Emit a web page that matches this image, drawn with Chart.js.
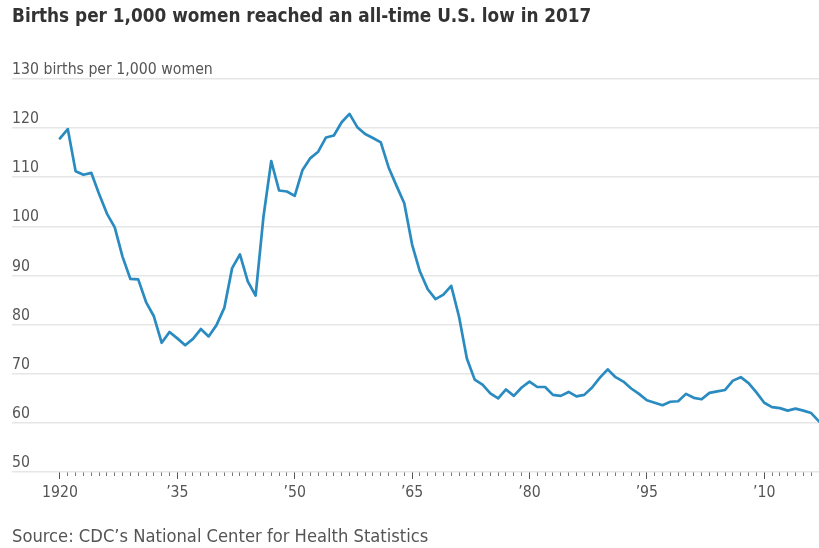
<!DOCTYPE html>
<html>
<head>
<meta charset="utf-8">
<script src="https://cdn.jsdelivr.net/npm/chart.js@4/dist/chart.umd.min.js"></script>
<style>
  html, body { margin: 0; padding: 0; background: #ffffff; }
  #wrap { width: 819px; height: 548px; }
</style>
</head>
<body>
<div id="wrap"><canvas id="chart" width="819" height="548"></canvas></div>
<script>
// ---- data ----
const years = [
  1920,1921,1922,1923,1924,1925,1926,1927,1928,1929,
  1930,1931,1932,1933,1934,1935,1936,1937,1938,1939,
  1940,1941,1942,1943,1944,1945,1946,1947,1948,1949,
  1950,1951,1952,1953,1954,1955,1956,1957,1958,1959,
  1960,1961,1962,1963,1964,1965,1966,1967,1968,1969,
  1970,1971,1972,1973,1974,1975,1976,1977,1978,1979,
  1980,1981,1982,1983,1984,1985,1986,1987,1988,1989,
  1990,1991,1992,1993,1994,1995,1996,1997,1998,1999,
  2000,2001,2002,2003,2004,2005,2006,2007,2008,2009,
  2010,2011,2012,2013,2014,2015,2016,2017
];
const birthsPer1000 = [
  117.9,119.8,111.2,110.5,110.9,106.6,102.6,99.8,93.8,89.3,
  89.2,84.6,81.7,76.3,78.5,77.2,75.8,77.1,79.1,77.6,
  79.9,83.4,91.5,94.3,88.8,85.9,101.9,113.3,107.3,107.1,
  106.2,111.5,113.9,115.2,118.1,118.5,121.2,122.9,120.2,118.8,
  118.0,117.1,112.0,108.3,104.7,96.3,90.8,87.2,85.2,86.1,
  87.9,81.6,73.1,68.8,67.8,66.0,65.0,66.8,65.5,67.2,
  68.4,67.3,67.3,65.7,65.5,66.3,65.4,65.7,67.2,69.2,
  70.9,69.3,68.4,67.0,65.9,64.6,64.1,63.6,64.3,64.4,
  65.9,65.1,64.8,66.1,66.4,66.7,68.6,69.3,68.1,66.2,
  64.1,63.2,63.0,62.5,62.9,62.5,62.0,60.3
];
const yTickValues = [50, 60, 70, 80, 90, 100, 110, 120, 130];
const xLabelYears = [1920, 1935, 1950, 1965, 1980, 1995, 2010];
const xLabelTexts = ['1920', '\u201935', '\u201950', '\u201965', '\u201980', '\u201995', '\u201910'];
const titleText = 'Births per 1,000 women reached an all-time U.S. low in 2017';
const unitText = '130 births per 1,000 women';
const sourceText = 'Source: CDC\u2019s National Center for Health Statistics';

// ---- fonts: size chosen so text widths match the reference ----
const FAMILY = "'Liberation Sans Narrow', 'DejaVu Sans Condensed', 'Roboto Condensed', 'Liberation Sans', sans-serif";
const mctx = document.createElement('canvas').getContext('2d');
function fitSize(text, weight, targetWidth) {
  mctx.font = weight + ' 100px ' + FAMILY;
  return Math.round(100 * targetWidth / mctx.measureText(text).width * 10) / 10;
}
const titleSize = fitSize(titleText, 'bold', 580);
const sourceSize = fitSize(sourceText, 'normal', 416);
const tickSize = fitSize(unitText, 'normal', 201);

const CHART_TOP = 79;      // pixel of the 130 gridline
const CHART_BOTTOM = 472;  // pixel of the 50 gridline
const TITLE_PAD_TOP = 17 - 0.6 * titleSize;
const TITLE_PAD_BOTTOM = CHART_TOP - TITLE_PAD_TOP - 1.2 * titleSize;
const X_TICK_LEN = 12;
const xAxisHeight = X_TICK_LEN + 1.2 * tickSize;
const SRC_PAD_BOTTOM = 548 - 537 - 0.6 * sourceSize;
const SRC_PAD_TOP = (548 - CHART_BOTTOM - xAxisHeight) - SRC_PAD_BOTTOM - 1.2 * sourceSize;

new Chart(document.getElementById('chart'), {
  type: 'line',
  data: {
    datasets: [{
      data: years.map((yr, i) => ({ x: yr, y: birthsPer1000[i] })),
      borderColor: '#2a8bc1',
      borderWidth: 2.7,
      pointRadius: 0,
      tension: 0,
      borderJoinStyle: 'round',
      borderCapStyle: 'round',
      fill: false
    }]
  },
  options: {
    responsive: false,
    devicePixelRatio: 1,
    animation: false,
    layout: { padding: { left: 12, right: 0, top: 0, bottom: 0 } },
    plugins: {
      legend: { display: false },
      tooltip: { enabled: false },
      title: {
        display: true,
        text: titleText,
        align: 'start',
        color: '#333333',
        font: { family: FAMILY, size: titleSize, weight: 'bold', lineHeight: 1.2 },
        padding: { top: TITLE_PAD_TOP, bottom: TITLE_PAD_BOTTOM }
      },
      subtitle: {
        display: true,
        position: 'bottom',
        text: sourceText,
        align: 'start',
        color: '#555555',
        font: { family: FAMILY, size: sourceSize, weight: 'normal', lineHeight: 1.2 },
        padding: { top: SRC_PAD_TOP, bottom: SRC_PAD_BOTTOM }
      }
    },
    scales: {
      x: {
        type: 'linear',
        min: 1913.87,
        max: 2017,
        afterBuildTicks: (scale) => { scale.ticks = years.map(v => ({ value: v })); },
        ticks: {
          autoSkip: false,
          maxRotation: 0,
          minRotation: 0,
          padding: 0,
          color: '#555555',
          font: { family: FAMILY, size: tickSize, lineHeight: 1.2 },
          callback: (v) => {
            const k = xLabelYears.indexOf(Math.round(v));
            return k >= 0 ? xLabelTexts[k] : '';
          }
        },
        grid: {
          drawOnChartArea: false,
          drawTicks: true,
          tickLength: X_TICK_LEN,
          tickColor: (ctx) => (ctx.tick && xLabelYears.includes(Math.round(ctx.tick.value))) ? '#555555' : '#777777',
          tickWidth: 1,
          tickBorderDash: (ctx) => (ctx.tick && xLabelYears.includes(Math.round(ctx.tick.value))) ? [7, 40] : [4, 40]
        },
        border: { display: false }
      },
      y: {
        type: 'linear',
        position: 'left',
        min: 50,
        max: 130,
        afterBuildTicks: (scale) => { scale.ticks = yTickValues.map(v => ({ value: v })); },
        ticks: {
          mirror: true,
          padding: 0,
          labelOffset: -9,
          color: '#555555',
          font: { family: FAMILY, size: tickSize, lineHeight: 1.2 },
          callback: (v) => v === 130 ? unitText : String(v)
        },
        grid: {
          color: '#e6e6e6',
          lineWidth: 1.6,
          drawTicks: false
        },
        border: { display: false }
      }
    }
  }
});
</script>
</body>
</html>
